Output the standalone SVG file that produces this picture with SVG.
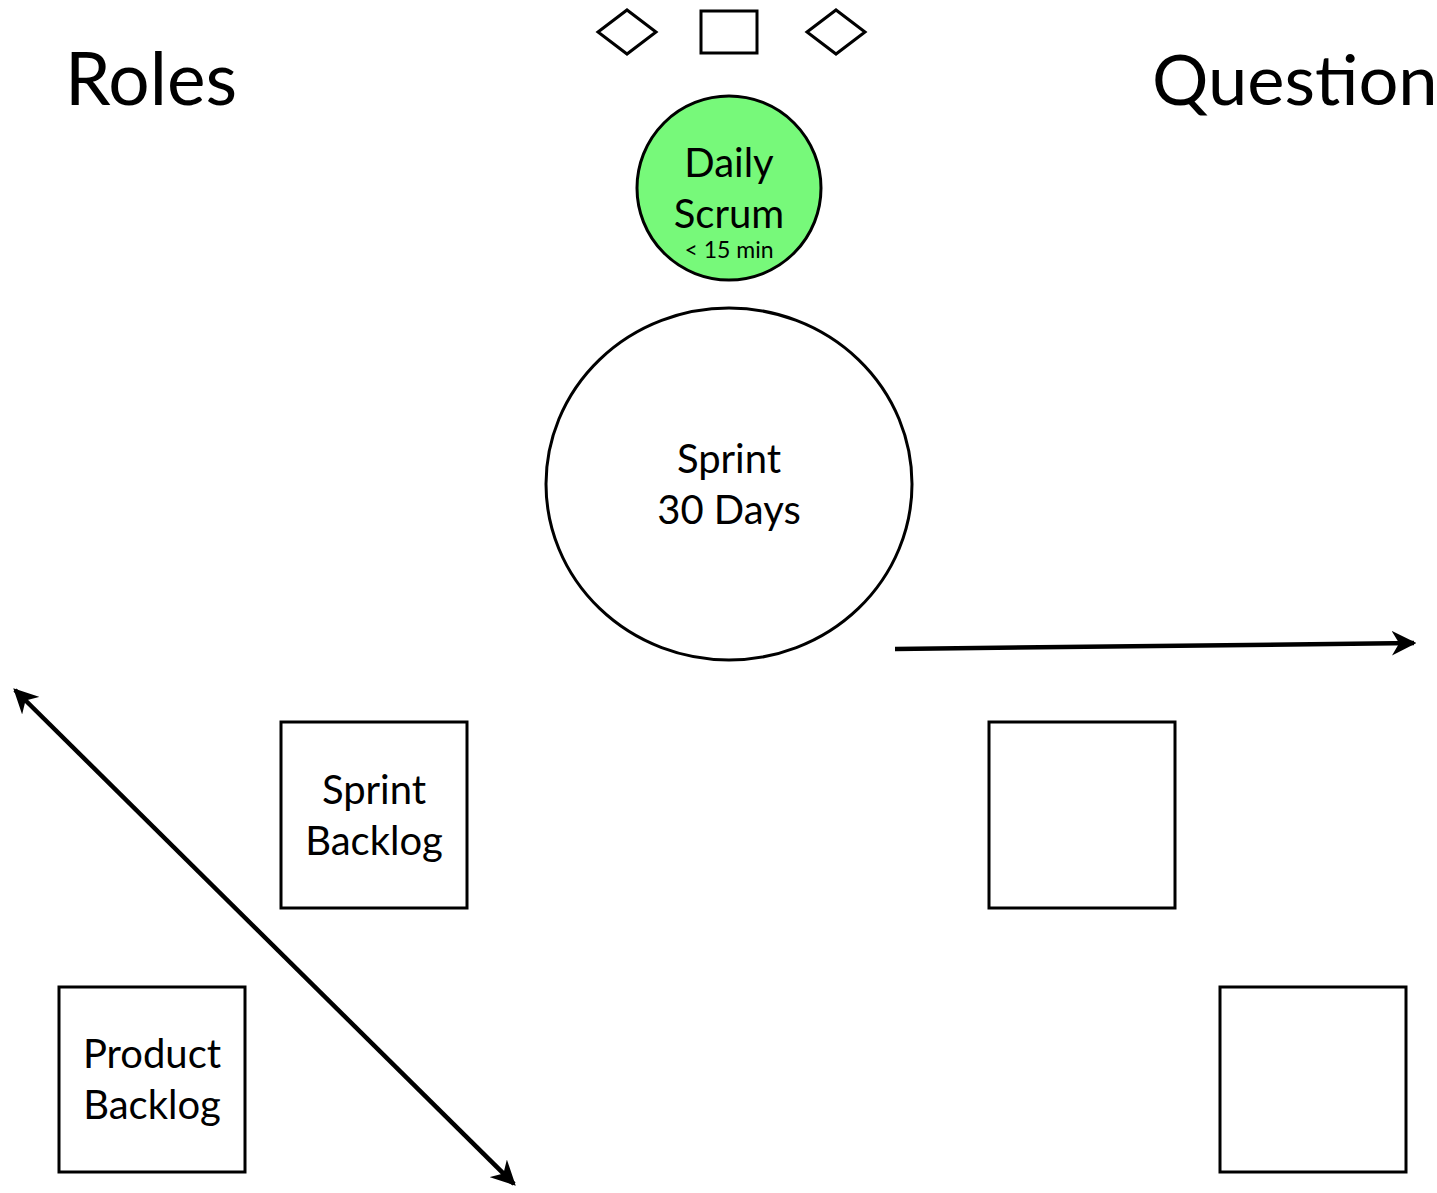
<svg xmlns="http://www.w3.org/2000/svg" width="1437" height="1193" viewBox="0 0 1437 1193">
<style>
.s{fill:none;stroke:#000;stroke-width:3}
.b{fill:#fff;stroke:#000;stroke-width:3}
.t{font-family:Lato,"Liberation Sans",sans-serif;fill:#000;text-anchor:middle}
.c{stroke:#000;stroke-width:4.5;fill:none}
</style>
<defs>
<marker id="ah" viewBox="0 0 10 10" refX="9" refY="5" markerWidth="5.5" markerHeight="5.5" orient="auto-start-reverse" markerUnits="strokeWidth">
<path d="M0,0 L10,5 L0,10 L3,5 Z" fill="#000"/>
</marker>
</defs>
<rect width="1437" height="1193" fill="#fff"/>
<g id="title-roles"><text x="65" y="105" font-family="Lato,'Liberation Sans',sans-serif" font-size="73">Roles</text></g>
<g id="title-questions"><text x="1152" y="105" font-family="Lato,'Liberation Sans',sans-serif" font-size="70.5">Question</text></g>
<g id="icon-diamond-1"><polygon class="s" points="598,32 627,10 656,32 627,54"/></g>
<g id="icon-rect"><rect class="s" x="701" y="11" width="56" height="42"/></g>
<g id="icon-diamond-2"><polygon class="s" points="807,32 836,10 865,32 836,54"/></g>
<g id="daily-scrum">
<circle cx="729" cy="188" r="92" fill="#77f97a" stroke="#000" stroke-width="3"/>
<text class="t" x="729" y="177" font-size="40">Daily</text>
<text class="t" x="729" y="228" font-size="40">Scrum</text>
<text class="t" x="729" y="258" font-size="23">&lt; 15 min</text>
</g>
<g id="sprint">
<ellipse class="b" cx="729" cy="484" rx="183" ry="176"/>
<text class="t" x="729" y="473" font-size="40">Sprint</text>
<text class="t" x="729" y="524" font-size="40">30 Days</text>
</g>
<g id="sprint-backlog">
<rect class="b" x="281" y="722" width="186" height="186"/>
<text class="t" x="374" y="804" font-size="40">Sprint</text>
<text class="t" x="374" y="855" font-size="40">Backlog</text>
</g>
<g id="product-backlog">
<rect class="b" x="59" y="987" width="186" height="185"/>
<text class="t" x="152" y="1068" font-size="40">Product</text>
<text class="t" x="152" y="1119" font-size="40">Backlog</text>
</g>
<g id="box-right-1"><rect class="b" x="989" y="722" width="186" height="186"/></g>
<g id="box-right-2"><rect class="b" x="1220" y="987" width="186" height="185"/></g>
<g id="connectors">
<line class="c" x1="895" y1="649" x2="1414" y2="643" marker-end="url(#ah)"/>
<line class="c" x1="15" y1="690" x2="514" y2="1184" marker-start="url(#ah)" marker-end="url(#ah)"/>
</g>
</svg>
